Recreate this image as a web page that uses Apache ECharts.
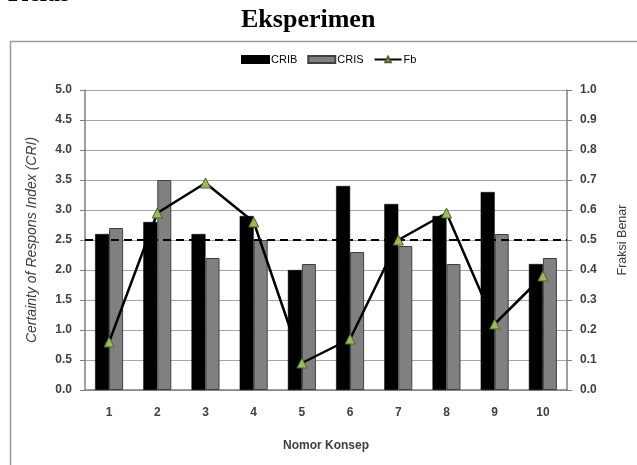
<!DOCTYPE html>
<html><head><meta charset="utf-8">
<script src="https://cdn.jsdelivr.net/npm/echarts@6/dist/echarts.min.js"></script>
<style>html,body{margin:0;padding:0;background:#fff}#c{width:637px;height:465px}</style>
</head><body><div id="c"></div>
<script>
const categories = ['1','2','3','4','5','6','7','8','9','10'];
const crib = [2.6, 2.8, 2.6, 2.9, 2.0, 3.4, 3.1, 2.9, 3.3, 2.1];
const cris = [2.7, 3.5, 2.2, 2.5, 2.1, 2.3, 2.4, 2.1, 2.6, 2.2];
const fb = [0.16, 0.59, 0.69, 0.56, 0.09, 0.17, 0.50, 0.59, 0.22, 0.38];
const threshold = 2.5;

const chart = echarts.init(document.getElementById('c'), null, {renderer:'canvas'});
const lblFont = {fontFamily:'Liberation Sans', fontWeight:'bold', fontSize:12, color:'#404040'};
chart.setOption({
  animation:false,
  backgroundColor:'#fff',
  graphic:[
    {type:'rect', left:8, top:39, shape:{width:640, height:440}, style:{fill:'none', stroke:'#9a9a9a', lineWidth:1.5}, z:-1},
    {type:'text', left:8, top:-19, style:{text:'Kelas', font:'bold 26px "Liberation Serif"', fill:'#000'}},
    {type:'text', left:241, top:7, style:{text:'Eksperimen', font:'bold 26px "Liberation Serif"', fill:'#000'}}
  ],
  legend:{
    top:54, left:241, padding:0, itemWidth:27, itemHeight:7, itemGap:10,
    textStyle:{fontFamily:'Liberation Sans', fontSize:11, color:'#000', padding:[0,0,0,-3]},
    data:[{name:'CRIB', icon:'rect'},{name:'CRIS', icon:'rect'},{name:'Fb'}]
  },
  grid:{left:85, right:70, top:90, bottom:75, containLabel:false},
  xAxis:{
    type:'category', data:categories,
    name:'Nomor Konsep', nameLocation:'middle', nameGap:50,
    nameTextStyle:lblFont,
    axisLine:{lineStyle:{color:'#808080', width:1.5}},
    axisTick:{length:5, inside:false, lineStyle:{color:'#808080'}},
    axisLabel:Object.assign({margin:17}, lblFont)
  },
  yAxis:[{
    type:'value', min:0, max:5, interval:0.5,
    name:'Certainty of Respons Index (CRI)', nameLocation:'middle', nameGap:46, nameRotate:90,
    nameTextStyle:{fontFamily:'Liberation Sans', fontStyle:'italic', fontSize:14, color:'#404040'},
    axisLine:{show:true, lineStyle:{color:'#808080', width:1.5}},
    axisTick:{show:true, length:5, lineStyle:{color:'#808080'}},
    axisLabel:Object.assign({margin:13, formatter:v=>v.toFixed(1)}, lblFont),
    splitLine:{lineStyle:{color:'#a6a6a6', width:1}}
  },{
    type:'value', min:0, max:1, interval:0.1, position:'right',
    name:'Fraksi Benar', nameLocation:'middle', nameGap:49, nameRotate:90,
    nameTextStyle:{fontFamily:'Liberation Sans', fontSize:12.5, color:'#404040'},
    axisLine:{show:true, lineStyle:{color:'#808080', width:1.5}},
    axisTick:{show:true, length:5, lineStyle:{color:'#808080'}},
    axisLabel:Object.assign({margin:13, formatter:v=>v.toFixed(1)}, lblFont),
    splitLine:{show:false}
  }],
  series:[{
    name:'CRIB', type:'bar', data:crib, barWidth:14, barGap:'0%',
    itemStyle:{color:'#000', borderColor:'#000', borderWidth:0.5},
    markLine:{
      silent:true, symbol:'none', label:{show:false},
      lineStyle:{color:'#000', type:[8,5], width:2},
      data:[{yAxis:threshold}]
    }
  },{
    name:'CRIS', type:'bar', data:cris, barWidth:14,
    itemStyle:{color:'#808080', borderColor:'#404040', borderWidth:1}
  },{
    name:'Fb', type:'line', yAxisIndex:1, data:fb,
    symbol:'triangle', symbolSize:10,
    lineStyle:{color:'#000', width:2.5},
    itemStyle:{color:'#9bbb59', borderColor:'#4f6228', borderWidth:1},
    z:5
  }]
});
</script></body></html>
